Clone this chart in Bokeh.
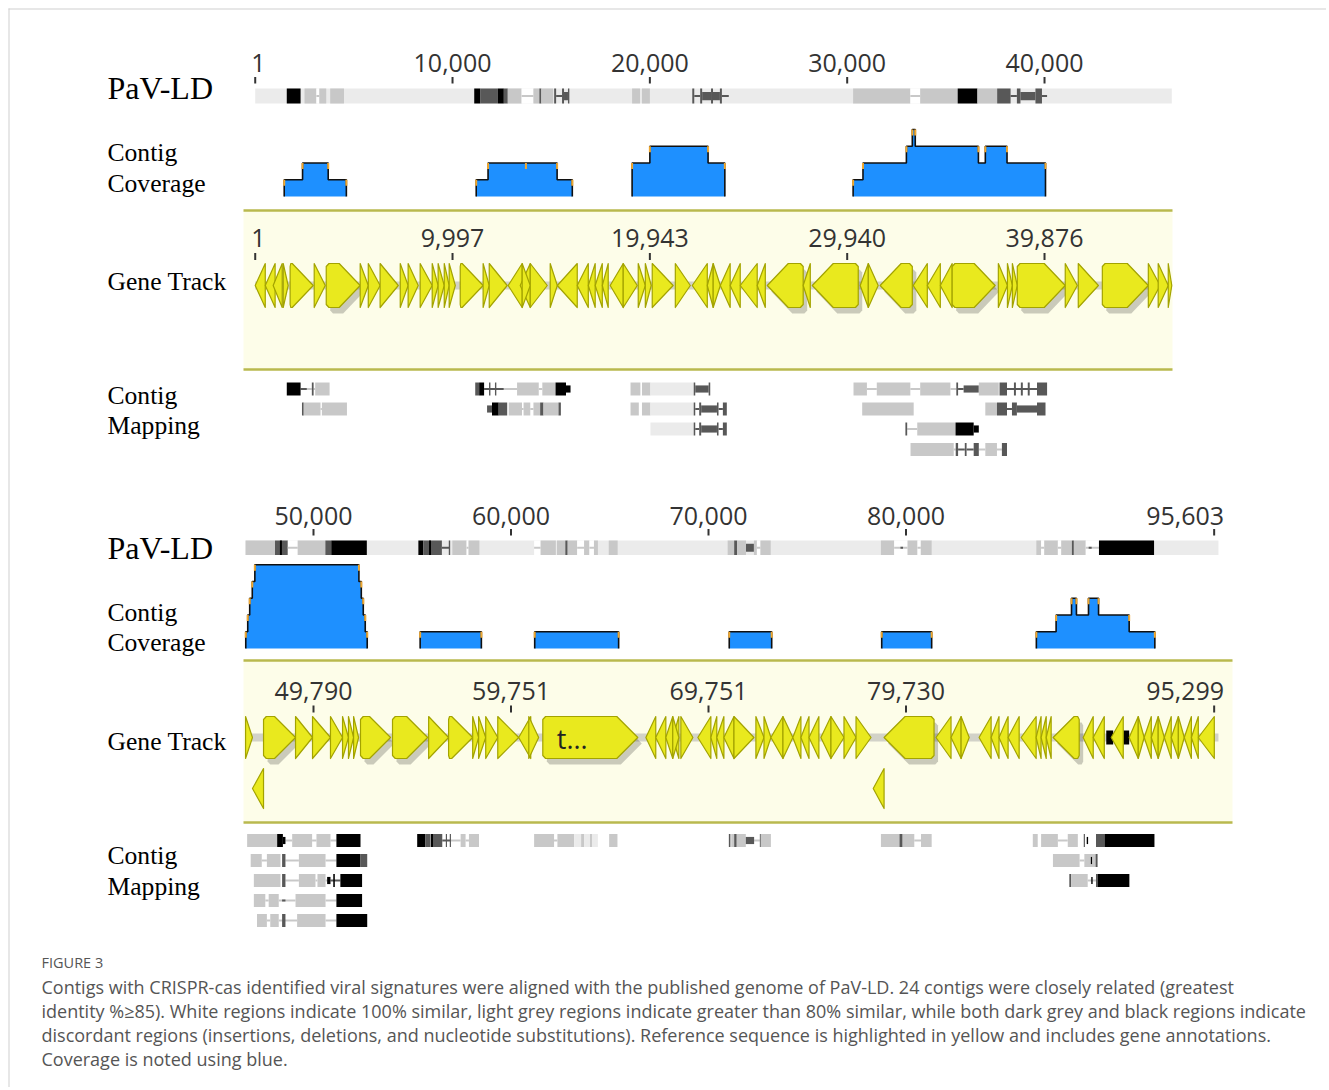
from bokeh.plotting import figure
from bokeh.models import Range1d, ColumnDataSource
from bokeh.embed import file_html
from bokeh.resources import INLINE
from bokeh.core.properties import value

# ----------------------------------------------------------------- data
# ruler ticks (bp) and their labels
top_ruler_ticks = [1, 10000, 20000, 30000, 40000]
top_ruler_labels = ["1", "10,000", "20,000", "30,000", "40,000"]
top_gene_labels = ["1", "9,997", "19,943", "29,940", "39,876"]
bot_ruler_ticks = [50000, 60000, 70000, 80000, 95603]
bot_ruler_labels = ["50,000", "60,000", "70,000", "80,000", "95,603"]
bot_gene_labels = ["49,790", "59,751", "69,751", "79,730", "95,299"]

# alignment extent of each line (kb)
top_extent = (0.0, 46.45)
bot_extent = (46.56, 95.82)

# PaV-LD consensus bar segments (start kb, end kb, shade)
top_genome = [
    (1.60, 2.30, "K"), (2.50, 3.10, "L"), (3.10, 3.25, "G"), (3.25, 3.60, "L"), (3.80, 4.50, "L"),
    (11.10, 11.40, "K"), (11.40, 12.30, "D"), (12.30, 12.60, "K"), (12.60, 12.80, "D"), (12.80, 13.50, "L"),
    (13.50, 14.10, "G"), (14.10, 14.40, "L"), (14.40, 14.50, "D"), (14.50, 15.10, "L"), (15.15, 15.25, "D"),
    (15.25, 15.55, "g"), (15.55, 15.65, "D"), (15.65, 15.85, "h"), (15.85, 15.92, "D"),
    (19.10, 19.50, "L"), (19.60, 20.00, "L"),
    (22.15, 22.25, "D"), (22.25, 22.55, "g"), (22.55, 22.65, "D"), (22.65, 23.10, "h"), (23.10, 23.20, "D"),
    (23.20, 23.55, "h"), (23.55, 23.65, "D"), (23.65, 24.00, "g"),
    (30.30, 33.20, "L"), (33.20, 33.70, "G"), (33.70, 35.60, "L"), (35.60, 36.60, "K"), (36.60, 37.60, "L"),
    (37.60, 38.28, "D"), (38.28, 38.60, "g"), (38.60, 38.78, "D"), (38.78, 39.54, "h"), (39.54, 39.87, "D"),
    (39.87, 40.13, "g"),
]
bot_genome = [
    (46.56, 48.05, "L"), (48.05, 48.70, "D"), (48.30, 48.40, "K"), (48.70, 49.20, "G"), (49.20, 50.60, "L"),
    (50.60, 50.90, "D"), (50.90, 52.70, "K"),
    (55.31, 55.56, "K"), (55.56, 56.50, "D"), (55.85, 55.95, "K"), (56.50, 56.90, "g"), (56.85, 56.92, "D"),
    (57.03, 57.75, "L"), (57.75, 57.85, "G"), (57.85, 58.40, "L"),
    (61.17, 61.50, "G"), (61.50, 62.27, "L"), (62.33, 62.75, "L"), (62.75, 62.87, "D"), (62.87, 63.35, "L"),
    (63.35, 63.70, "G"), (63.70, 63.97, "L"), (63.97, 64.20, "G"), (64.20, 64.40, "L"), (64.95, 65.40, "L"),
    (70.97, 71.30, "L"), (71.30, 71.45, "D"), (71.45, 71.90, "L"), (71.90, 72.30, "h"), (72.30, 72.45, "L"),
    (72.45, 72.63, "G"), (72.63, 73.15, "L"),
    (78.73, 79.40, "L"), (79.40, 80.08, "G"), (79.72, 79.85, "g"), (80.08, 80.58, "L"), (80.58, 80.75, "G"),
    (80.75, 81.30, "L"),
    (86.60, 86.84, "L"), (86.84, 87.00, "G"), (87.00, 87.69, "L"), (87.69, 87.86, "G"), (87.86, 88.40, "L"),
    (88.40, 88.50, "D"), (88.50, 89.10, "L"), (89.10, 89.77, "G"), (89.25, 89.40, "g"), (89.77, 92.56, "K"),
]

# contig coverage steps (start kb, end kb, number of contigs)
top_coverage = [
    (1.47, 2.40, 1), (2.40, 3.70, 2), (3.70, 4.62, 1),
    (11.20, 11.80, 1), (11.80, 13.72, 2), (13.72, 15.30, 2), (15.30, 16.07, 1),
    (19.10, 20.00, 2), (20.00, 22.95, 3), (22.95, 23.80, 2),
    (30.30, 30.80, 1), (30.80, 33.00, 2), (33.00, 33.30, 3), (33.30, 33.45, 4), (33.45, 36.65, 3),
    (36.65, 37.00, 2), (37.00, 38.10, 3), (38.10, 40.05, 2),
]
bot_coverage = [
    (46.57, 46.67, 1), (46.67, 46.77, 2), (46.77, 46.90, 3), (46.90, 47.03, 4), (47.03, 52.30, 5),
    (52.30, 52.42, 4), (52.42, 52.52, 3), (52.52, 52.62, 2), (52.62, 52.72, 1),
    (55.40, 58.50, 1),
    (61.20, 65.45, 1),
    (71.05, 73.20, 1),
    (78.77, 81.30, 1),
    (86.60, 87.60, 1), (87.60, 88.38, 2), (88.38, 88.63, 3), (88.63, 89.24, 2), (89.24, 89.75, 3),
    (89.75, 91.30, 2), (91.30, 92.60, 1),
]

# annotated genes (start kb, end kb, strand)
top_genes = [
    (0.00, 0.51, -1), (0.51, 1.01, -1), (0.91, 1.37, -1), (1.42, 1.67, 1), (1.77, 2.94, 1), (2.99, 3.55, 1),
    (3.60, 5.32, 1), (5.32, 5.73, 1), (5.73, 6.33, 1), (6.33, 7.25, 1), (7.35, 7.75, 1), (7.75, 8.26, 1),
    (8.36, 8.97, 1), (8.97, 9.27, 1), (9.27, 9.58, 1), (9.58, 9.83, 1), (9.83, 10.14, 1), (10.39, 11.55, 1),
    (11.55, 11.86, 1), (11.86, 12.77, 1), (12.82, 13.53, -1), (13.43, 13.94, -1), (13.53, 13.94, 1),
    (13.94, 14.80, 1), (14.95, 15.31, 1), (15.31, 16.32, -1), (16.32, 16.88, -1), (16.88, 17.23, -1),
    (17.23, 17.59, -1), (17.59, 17.89, -1), (17.99, 18.65, -1), (18.65, 19.36, 1), (19.41, 19.77, 1),
    (19.77, 20.07, 1), (20.12, 21.18, 1), (21.29, 22.05, 1), (22.15, 22.91, -1), (22.91, 23.21, -1),
    (23.21, 23.57, 1), (23.57, 24.07, -1), (24.07, 24.58, -1), (24.58, 25.44, -1), (25.44, 25.85, -1),
    (25.95, 27.77, -1), (27.77, 28.13, -1), (28.23, 30.56, -1), (30.66, 31.07, -1), (31.07, 31.57, 1),
    (31.67, 33.30, -1), (33.35, 34.06, -1), (34.06, 34.72, -1), (34.72, 35.32, -1), (35.32, 37.50, 1),
    (37.66, 38.12, 1), (38.12, 38.37, 1), (38.37, 38.62, 1), (38.62, 41.05, 1), (41.05, 41.66, 1),
    (41.71, 42.73, 1), (42.93, 45.26, 1), (45.26, 45.86, 1), (45.76, 46.27, 1), (46.27, 46.45, 1),
]
bot_genes = [
    (46.56, 46.91, 1), (47.47, 49.09, 1), (49.09, 49.95, 1), (49.95, 50.86, 1), (50.86, 51.47, 1),
    (51.47, 51.77, 1), (51.77, 52.03, 1), (52.03, 52.28, 1), (52.38, 53.90, 1), (54.00, 55.78, 1),
    (55.83, 56.84, 1), (56.84, 58.06, 1), (58.06, 58.36, 1), (58.36, 58.72, 1), (58.72, 59.33, 1),
    (59.33, 60.39, 1), (60.39, 61.00, -1), (60.90, 61.40, 1), (61.61, 66.42, 1), (66.83, 67.33, -1),
    (67.33, 67.84, -1), (67.84, 68.19, -1), (68.19, 68.50, -1), (68.19, 68.50, 1), (68.60, 69.21, 1),
    (69.46, 70.12, -1), (70.12, 70.42, -1), (70.42, 70.78, -1), (70.78, 71.29, -1), (71.29, 72.30, 1),
    (72.40, 72.81, 1), (72.81, 73.16, 1), (73.16, 73.77, -1), (73.77, 74.27, 1), (74.27, 74.68, -1),
    (74.68, 75.09, -1), (75.09, 75.59, -1), (75.69, 76.20, -1), (76.20, 76.86, 1), (76.86, 77.47, 1),
    (77.47, 78.23, 1), (78.89, 81.42, -1), (81.52, 82.28, -1), (82.28, 82.79, -1), (82.79, 83.20, 1),
    (83.70, 84.31, -1), (84.31, 84.71, -1), (84.71, 85.17, -1), (85.17, 85.73, -1), (85.83, 86.59, -1),
    (86.59, 86.84, -1), (86.84, 87.10, -1), (87.10, 87.35, -1), (87.45, 88.77, -1), (88.97, 89.48, -1),
    (89.48, 90.04, -1), (90.39, 91.00, -1), (91.30, 91.76, -1), (91.76, 92.06, 1), (92.06, 92.42, -1),
    (92.42, 92.77, -1), (92.77, 93.08, 1), (93.08, 93.43, -1), (93.43, 93.79, -1), (93.79, 94.09, 1),
    (94.09, 94.45, -1), (94.45, 94.80, -1), (94.80, 95.61, -1),
]
bot_genes_row2 = [(46.91, 47.47, -1), (78.34, 78.89, -1)]
bot_gene_name = (61.61, "t...")
bot_dark_marks = [(90.14, 90.49), (91.00, 91.30)]

# contig mapping segments (row, start kb, end kb, shade)
top_mapping = [
    (0, 1.60, 2.30, "K"), (0, 2.30, 2.62, "g"), (0, 2.62, 2.87, "t"), (0, 2.87, 2.96, "D"), (0, 2.96, 3.04, "t"),
    (0, 3.04, 3.77, "L"),
    (0, 11.15, 11.35, "D"), (0, 11.35, 11.60, "K"), (0, 11.60, 12.60, "g"), (0, 11.85, 11.92, "D"),
    (0, 12.15, 12.22, "D"), (0, 12.60, 13.27, "t"), (0, 13.27, 14.37, "L"), (0, 14.37, 14.55, "t"),
    (0, 14.55, 15.22, "L"), (0, 15.22, 15.75, "K"), (0, 15.75, 15.98, "k"),
    (0, 19.02, 19.52, "L"), (0, 19.60, 20.03, "L"), (0, 20.03, 22.20, "V"), (0, 22.22, 22.30, "D"),
    (0, 22.30, 22.98, "h"), (0, 22.98, 23.06, "D"),
    (0, 30.32, 31.00, "L"), (0, 31.00, 31.50, "t"), (0, 31.50, 33.20, "L"), (0, 33.20, 33.70, "t"),
    (0, 33.70, 35.23, "L"), (0, 35.23, 35.53, "t"), (0, 35.53, 35.62, "D"), (0, 35.62, 35.90, "g"),
    (0, 35.90, 36.67, "h"), (0, 36.67, 37.68, "L"), (0, 37.72, 38.10, "D"), (0, 38.10, 39.62, "g"),
    (0, 38.45, 38.55, "D"), (0, 38.80, 38.90, "D"), (0, 39.15, 39.25, "D"), (0, 39.62, 40.13, "D"),
    (1, 2.37, 2.46, "D"), (1, 2.46, 3.31, "L"), (1, 3.31, 3.38, "t"), (1, 3.38, 4.65, "L"),
    (1, 11.75, 12.00, "h"), (1, 12.00, 12.34, "K"), (1, 12.34, 12.77, "D"), (1, 12.85, 13.52, "L"),
    (1, 13.52, 13.60, "t"), (1, 13.60, 13.94, "L"), (1, 13.94, 14.10, "t"), (1, 14.10, 14.44, "L"),
    (1, 14.44, 14.61, "D"), (1, 14.61, 15.37, "L"), (1, 15.37, 15.49, "D"),
    (1, 19.02, 19.44, "L"), (1, 19.60, 20.03, "L"), (1, 20.03, 22.20, "V"), (1, 22.22, 22.30, "D"),
    (1, 22.30, 22.50, "g"), (1, 22.50, 22.60, "D"), (1, 22.60, 23.40, "h"), (1, 23.40, 23.48, "D"),
    (1, 23.48, 23.70, "g"), (1, 23.70, 23.90, "D"),
    (1, 30.76, 33.37, "L"), (1, 37.00, 37.59, "L"), (1, 37.59, 38.10, "D"), (1, 38.10, 38.35, "g"),
    (1, 38.35, 38.60, "D"), (1, 38.60, 39.62, "h"), (1, 39.62, 40.05, "D"),
    (2, 20.03, 22.20, "V"), (2, 22.22, 22.30, "D"), (2, 22.30, 22.50, "g"), (2, 22.50, 22.60, "D"),
    (2, 22.60, 23.40, "h"), (2, 23.40, 23.48, "D"), (2, 23.48, 23.70, "g"), (2, 23.70, 23.90, "D"),
    (2, 32.95, 33.04, "D"), (2, 33.04, 33.55, "t"), (2, 33.55, 35.49, "L"), (2, 35.49, 36.41, "K"),
    (2, 36.41, 36.67, "k"),
    (3, 33.21, 35.40, "L"), (3, 35.40, 35.50, "t"), (3, 35.50, 35.62, "D"), (3, 35.62, 35.96, "g"),
    (3, 35.96, 36.05, "D"), (3, 36.05, 36.41, "g"), (3, 36.41, 36.67, "D"), (3, 36.67, 37.00, "t"),
    (3, 37.00, 37.59, "L"), (3, 37.59, 37.84, "t"), (3, 37.84, 38.10, "D"),
]
bot_mapping = [
    (0, 46.64, 48.16, "L"), (0, 48.16, 48.45, "K"), (0, 48.45, 48.58, "k"), (0, 48.58, 48.92, "t"),
    (0, 48.92, 49.93, "L"), (0, 49.93, 50.15, "t"), (0, 50.15, 50.86, "L"), (0, 50.86, 51.16, "t"),
    (0, 51.16, 52.38, "K"),
    (0, 55.25, 55.67, "K"), (0, 55.67, 55.93, "D"), (0, 55.95, 56.05, "K"), (0, 56.05, 56.52, "D"),
    (0, 56.52, 56.94, "g"), (0, 56.70, 56.76, "D"), (0, 56.90, 56.96, "D"), (0, 56.96, 57.45, "t"),
    (0, 57.45, 57.70, "L"), (0, 57.70, 57.87, "t"), (0, 57.87, 58.38, "L"),
    (0, 61.17, 62.18, "L"), (0, 62.18, 62.35, "t"), (0, 62.35, 63.20, "L"), (0, 63.20, 63.55, "V"),
    (0, 63.55, 63.70, "L"), (0, 63.70, 64.00, "V"), (0, 64.00, 64.10, "L"), (0, 64.10, 64.40, "V"),
    (0, 64.97, 65.39, "L"),
    (0, 71.03, 71.11, "D"), (0, 71.15, 71.30, "L"), (0, 71.30, 71.43, "D"), (0, 71.43, 71.89, "L"),
    (0, 71.89, 72.31, "h"), (0, 72.31, 72.60, "t"), (0, 72.60, 72.65, "D"), (0, 72.65, 73.16, "L"),
    (0, 78.73, 79.67, "L"), (0, 79.67, 79.83, "D"), (0, 79.83, 80.42, "L"), (0, 80.42, 80.76, "t"),
    (0, 80.76, 81.30, "L"),
    (0, 86.42, 86.67, "L"), (0, 86.84, 87.69, "L"), (0, 87.69, 88.19, "t"), (0, 88.19, 88.70, "L"),
    (0, 89.00, 89.06, "D"), (0, 89.15, 89.22, "k"), (0, 89.62, 90.05, "D"), (0, 90.05, 92.58, "K"),
    (1, 46.82, 47.38, "L"), (1, 47.38, 47.64, "t"), (1, 47.64, 48.33, "L"), (1, 48.41, 48.58, "D"),
    (1, 48.58, 49.26, "t"), (1, 49.26, 50.61, "L"), (1, 50.61, 51.16, "t"), (1, 51.16, 52.38, "K"),
    (1, 52.38, 52.72, "D"),
    (1, 87.44, 88.79, "L"), (1, 88.79, 89.03, "t"), (1, 89.03, 89.60, "L"), (1, 89.36, 89.42, "k"),
    (1, 89.60, 89.70, "D"),
    (2, 46.98, 48.33, "L"), (2, 48.41, 48.58, "D"), (2, 48.58, 49.26, "t"), (2, 49.26, 50.10, "L"),
    (2, 50.10, 50.20, "t"), (2, 50.20, 50.61, "L"), (2, 50.61, 50.69, "t"), (2, 50.69, 50.86, "k"),
    (2, 50.86, 51.36, "g"), (2, 51.00, 51.08, "K"), (2, 51.36, 52.46, "K"),
    (2, 88.27, 88.36, "D"), (2, 88.36, 89.20, "L"), (2, 89.20, 89.62, "t"), (2, 89.38, 89.45, "k"),
    (2, 89.62, 89.70, "D"), (2, 89.70, 91.31, "K"),
    (3, 46.98, 47.56, "L"), (3, 47.56, 47.73, "t"), (3, 47.73, 48.24, "L"), (3, 48.24, 49.09, "t"),
    (3, 48.41, 48.58, "g"), (3, 49.09, 50.61, "L"), (3, 50.61, 51.16, "t"), (3, 51.16, 52.46, "K"),
    (4, 47.14, 47.64, "L"), (4, 47.64, 47.81, "t"), (4, 47.81, 48.24, "L"), (4, 48.24, 49.17, "t"),
    (4, 48.41, 48.58, "D"), (4, 49.17, 50.61, "L"), (4, 50.61, 51.16, "t"), (4, 51.16, 52.72, "K"),
]

track_labels = [["PaV-LD"], ["Contig", "Coverage"], ["Gene Track"], ["Contig", "Mapping"]]
caption_title = "FIGURE 3"
caption_lines = [
    "Contigs with CRISPR-cas identified viral signatures were aligned with the published genome of PaV-LD. 24 contigs were closely related (greatest",
    "identity %\u226585). White regions indicate 100% similar, light grey regions indicate greater than 80% similar, while both dark grey and black regions indicate",
    "discordant regions (insertions, deletions, and nucleotide substitutions). Reference sequence is highlighted in yellow and includes gene annotations.",
    "Coverage is noted using blue.",
]

# ----------------------------------------------------------------- styling / layout
PX_PER_KB_TOP = 19.733
PX_PER_KB_BOT = 19.75
def px_top(X):
    return (X - 254.7) / PX_PER_KB_TOP
def px_bot(X):
    return 50.0 + (X - 313.0) / PX_PER_KB_BOT

SHADES = {"K": ("#000000", 1.0), "k": ("#000000", 0.55), "D": ("#585858", 1.0), "h": ("#585858", 0.55),
          "L": ("#c8c8c8", 1.0), "V": ("#ebebeb", 1.0), "t": ("#c8c8c8", None), "g": ("#585858", None)}
BLUE = "#1E90FF"
ARROW_FILL = "#e9e91e"
ARROW_LINE = "#a3a300"
TRACK_BG = "#fdfde9"
TRACK_LINE = "#b9b94e"
SERIF = value("Liberation Serif")
SANS = value("Open Sans")

W, H = 1326, 1087
p = figure(width=W, height=H, output_backend="svg", toolbar_location=None,
           x_range=Range1d(px_top(0), px_top(W)), y_range=Range1d(H, 0),
           x_axis_type=None, y_axis_type=None, min_border=0)
p.extra_x_ranges = {"bot": Range1d(px_bot(0), px_bot(W))}
p.outline_line_color = None
p.background_fill_color = "white"
p.border_fill_color = "white"

# frame of the published figure (top and left edges)
p.segment(x0=[px_top(8), px_top(8.5)], x1=[px_top(W), px_top(8.5)], y0=[8.5, 8], y1=[8.5, H],
          line_color="#cfcfcf", line_width=1)

panels = [
    dict(rng="default", px=px_top, ppk=PX_PER_KB_TOP, extent=top_extent, ticks=top_ruler_ticks,
         labels=top_ruler_labels, glabels=top_gene_labels, genome=top_genome, cov=top_coverage,
         genes=top_genes, genes2=[], mapping=top_mapping, dark=[],
         ruler_base=62.5, tick=(76.5, 83), bar=(88, 103), cov_base=196, box=(210, 369), box_x=(243, 1172),
         glab_base=237.5, gtick=(252.5, 259.5), gene_y=285, gene_hh=22, gene_y2=None,
         map_rows=[388.5, 408.5, 428.5, 449], label_y=[87, (152, 183), 281, (395, 425)]),
    dict(rng="bot", px=px_bot, ppk=PX_PER_KB_BOT, extent=bot_extent, ticks=bot_ruler_ticks,
         labels=bot_ruler_labels, glabels=bot_gene_labels, genome=bot_genome, cov=bot_coverage,
         genes=bot_genes, genes2=bot_genes_row2, mapping=bot_mapping, dark=bot_dark_marks,
         ruler_base=515, tick=(528.5, 535), bar=(540, 554.5), cov_base=648, box=(660, 822), box_x=(243, 1232),
         glab_base=690, gtick=(705, 712), gene_y=737, gene_hh=21, gene_y2=788,
         map_rows=[840, 860, 880, 900, 920], label_y=[547, (612, 642), 741, (855, 886)]),
]


def seg_quads(segs, yc, hh):
    thin = dict(left=[], right=[], top=[], bottom=[], color=[])
    full = dict(left=[], right=[], top=[], bottom=[], color=[])
    for s, e, sh in segs:
        if sh == "G":
            for d, col, h in ((full, "#ffffff", hh), (full, "#c8c8c8", 1.0)):
                d["left"].append(s); d["right"].append(e)
                d["top"].append(yc - h); d["bottom"].append(yc + h); d["color"].append(col)
            continue
        col, f = SHADES[sh]
        d = thin if f is None else full
        h = 1.0 if f is None else hh * f
        d["left"].append(s); d["right"].append(e)
        d["top"].append(yc - h); d["bottom"].append(yc + h); d["color"].append(col)
    return thin, full


def arrow_poly(s, e, strand, yc, hh, head):
    L = e - s
    h = min(L, head)
    bev = min(0.14, max(0.0, (L - h) * 0.3))
    b = 3.0 if bev > 0 else 0.0
    if strand > 0:
        if L <= head:
            return [s, e, s], [yc - hh, yc, yc + hh]
        xs = [s, s + bev, e - h, e, e - h, s + bev, s]
        ys = [yc - hh + b, yc - hh, yc - hh, yc, yc + hh, yc + hh, yc + hh - b]
    else:
        if L <= head:
            return [e, s, e], [yc - hh, yc, yc + hh]
        xs = [e, e - bev, s + h, s, s + h, e - bev, e]
        ys = [yc - hh + b, yc - hh, yc - hh, yc, yc + hh, yc + hh, yc + hh - b]
    return xs, ys


for P in panels:
    rng, px, ppk = P["rng"], P["px"], P["ppk"]
    x0, x1 = P["extent"]

    # ---- ruler
    tk = [t / 1000.0 for t in P["ticks"]]
    p.segment(x0=tk, x1=tk, y0=[P["tick"][0]] * len(tk), y1=[P["tick"][1]] * len(tk),
              line_color="#333333", line_width=2, x_range_name=rng)
    aligns = ["center"] * len(tk)
    offs = [0] * len(tk)
    if P["labels"][0] == "1":
        aligns[0] = "left"; offs[0] = -4
    if rng == "bot":
        aligns[-1] = "right"; offs[-1] = 10
    src = ColumnDataSource(dict(x=tk, y=[P["ruler_base"]] * len(tk), t=P["labels"], a=aligns, o=offs))
    p.text(x="x", y="y", text="t", text_align="a", x_offset="o", source=src, text_font=SANS,
           text_font_size="25px", text_color="#333333", text_baseline="alphabetic", x_range_name=rng)

    # ---- PaV-LD consensus bar
    yb = (P["bar"][0] + P["bar"][1]) / 2.0
    hb = (P["bar"][1] - P["bar"][0]) / 2.0
    p.quad(left=[x0], right=[x1], top=[P["bar"][0]], bottom=[P["bar"][1]], fill_color="#ebebeb",
           line_color=None, x_range_name=rng)
    thin, full = seg_quads(P["genome"], yb, hb)
    for d in (full, thin):
        p.quad(left=d["left"], right=d["right"], top=d["top"], bottom=d["bottom"], fill_color=d["color"],
               line_color=None, x_range_name=rng)

    # ---- coverage
    unit = 16.75
    base = P["cov_base"]
    blocks = []
    for s, e, lvl in P["cov"]:
        if blocks and abs(blocks[-1][-1][1] - s) < 1e-6:
            blocks[-1].append((s, e, lvl))
        else:
            blocks.append([(s, e, lvl)])
    pxs, pys = [], []
    orx0, ory0, ory1 = [], [], []
    for bl in blocks:
        xs = [bl[0][0]]
        ys = [base]
        prev = 0
        for s, e, lvl in bl:
            xs += [s, e]
            ys += [base - lvl * unit, base - lvl * unit]
            orx0.append(s); ory0.append(base - max(prev, lvl) * unit); ory1.append(base - max(prev, lvl) * unit + 6)
            prev = lvl
        xs.append(bl[-1][1]); ys.append(base)
        orx0.append(bl[-1][1]); ory0.append(base - prev * unit); ory1.append(base - prev * unit + 6)
        pxs.append(xs); pys.append(ys)
    p.patches(xs=pxs, ys=pys, fill_color=BLUE, line_color=None, x_range_name=rng)
    p.multi_line(xs=pxs, ys=pys, line_color="#101010", line_width=1.6, x_range_name=rng)
    p.segment(x0=orx0, x1=orx0, y0=ory0, y1=ory1, line_color="#f0a830", line_width=2, x_range_name=rng)

    # ---- gene track
    bx0, bx1 = px(P["box_x"][0]), px(P["box_x"][1])
    p.quad(left=[bx0], right=[bx1], top=[P["box"][0]], bottom=[P["box"][1]], fill_color=TRACK_BG,
           line_color=None, x_range_name=rng)
    p.segment(x0=[bx0, bx0], x1=[bx1, bx1], y0=[P["box"][0], P["box"][1]], y1=[P["box"][0], P["box"][1]],
              line_color=TRACK_LINE, line_width=2.5, x_range_name=rng)
    p.segment(x0=tk, x1=tk, y0=[P["gtick"][0]] * len(tk), y1=[P["gtick"][1]] * len(tk),
              line_color="#333333", line_width=2, x_range_name=rng)
    src = ColumnDataSource(dict(x=tk, y=[P["glab_base"]] * len(tk), t=P["glabels"], a=aligns, o=offs))
    p.text(x="x", y="y", text="t", text_align="a", x_offset="o", source=src, text_font=SANS,
           text_font_size="25px", text_color="#333333", text_baseline="alphabetic", x_range_name=rng)
    gy, ghh = P["gene_y"], P["gene_hh"]
    p.quad(left=[x0], right=[x1], top=[gy - 4], bottom=[gy + 4], fill_color="#d2d2c8", line_color=None,
           x_range_name=rng)
    if P["dark"]:
        p.quad(left=[a for a, b in P["dark"]], right=[b for a, b in P["dark"]], top=[gy - 7] * len(P["dark"]),
               bottom=[gy + 7] * len(P["dark"]), fill_color="#000000", line_color=None, x_range_name=rng)
    head = 21.0 / ppk
    sh_dx = 4.0 / ppk
    sxs, sys_, axs, ays = [], [], [], []
    for s, e, st in P["genes"]:
        xs, ys = arrow_poly(s, e, st, gy, ghh, head)
        axs.append(xs); ays.append(ys)
        if e - s > 1.25:
            sxs.append([x + sh_dx for x in xs]); sys_.append([y + 6 for y in ys])
    for s, e, st in P["genes2"]:
        xs, ys = arrow_poly(s, e, st, P["gene_y2"], 20, head)
        axs.append(xs); ays.append(ys)
    if sxs:
        p.patches(xs=sxs, ys=sys_, fill_color="#000000", fill_alpha=0.2, line_color=None, x_range_name=rng)
    p.patches(xs=axs, ys=ays, fill_color=ARROW_FILL, line_color=ARROW_LINE, line_width=1.2,
              line_join="round", x_range_name=rng)
    if rng == "bot":
        p.text(x=[bot_gene_name[0] + 14.0 / ppk], y=[gy + 1], text=[bot_gene_name[1]], text_font=SANS,
               text_font_size="27px", text_color="#222222", text_baseline="middle", x_range_name=rng)

    # ---- contig mapping
    for r, yc in enumerate(P["map_rows"]):
        segs = [(s, e, sh) for (rr, s, e, sh) in P["mapping"] if rr == r]
        if not segs:
            continue
        thin, full = seg_quads(segs, yc, 6.5)
        for d in (thin, full):
            if d["left"]:
                p.quad(left=d["left"], right=d["right"], top=d["top"], bottom=d["bottom"], fill_color=d["color"],
                       line_color=None, x_range_name=rng)

    # ---- row labels
    lx = px_top(107)
    ly = P["label_y"]
    p.text(x=[lx], y=[ly[0]], text=track_labels[0], text_font=SERIF, text_font_size="32px",
           text_color="#000000", text_baseline="middle")
    for i in (1, 2, 3):
        yy = ly[i] if isinstance(ly[i], tuple) else (ly[i],)
        p.text(x=[lx] * len(yy), y=list(yy), text=track_labels[i], text_font=SERIF, text_font_size="25.6px",
               text_color="#000000", text_baseline="middle")

# ---- caption
cx = px_top(41)
p.text(x=[cx], y=[962], text=[caption_title], text_font=SANS, text_font_size="14.5px", text_color="#555555",
       text_baseline="alphabetic")
p.text(x=[cx] * len(caption_lines), y=[986, 1010, 1034, 1058], text=caption_lines, text_font=SANS,
       text_font_size="18px", text_color="#555555", text_baseline="alphabetic")

open("out.html", "w").write(file_html(p, INLINE))
